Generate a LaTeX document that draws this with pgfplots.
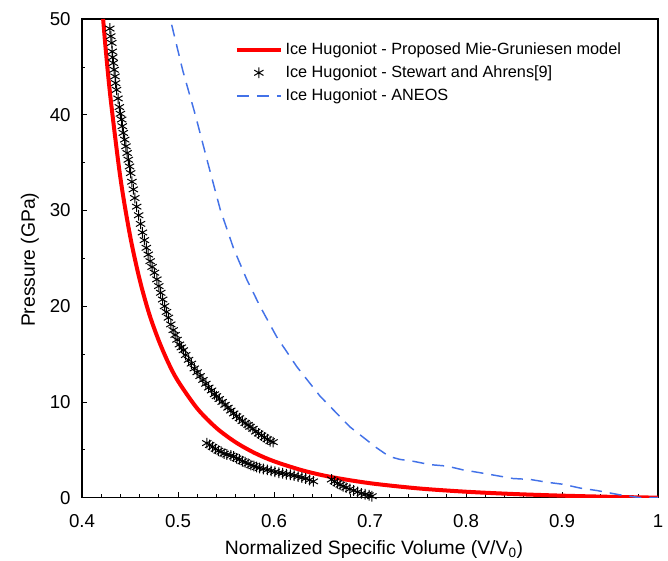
\documentclass[border=0pt]{standalone}
\usepackage{pgfplots}
\pgfplotsset{compat=1.18}
\usepackage{fontspec}
\setmainfont{Liberation Sans}
\definecolor{mgred}{HTML}{FF0000}
\definecolor{aneos}{HTML}{4372E8}
\pgfplotsset{
  linelegend/.style={legend image code/.code={\draw[##1] (0pt,0pt) -- (33pt,0pt);}},
  marklegend/.style={legend image code/.code={\draw[##1] plot coordinates {(16.5pt,0pt)};}},
}

\begin{document}
\begin{tikzpicture}
\begin{axis}[
  scale only axis, width=432pt, height=359pt,
  xmin=0.4, xmax=1, ymin=0, ymax=50,
  xtick={0.4,0.5,...,1.0}, ytick={0,10,...,50},
  minor x tick num=4, minor y tick num=1,
  tick align=inside, xtick pos=bottom, ytick pos=left,
  major tick length=4pt, minor tick length=2.5pt,
  tick style={black, line width=0.5pt},
  axis line style={black, line width=1pt},
  ticklabel style={font=\fontsize{14}{16}\selectfont},
  /pgf/number format/assume math mode=true,
  xticklabel style={yshift=-9pt},
  yticklabel style={xshift=-5pt},
  label style={font=\fontsize{14.5}{17}\selectfont},
  xlabel={Normalized Specific Volume (V/V\textsubscript{0})},
  xlabel style={at={(axis description cs:0.507,-0.118)}, anchor=base},
  ylabel={Pressure (GPa)},
  ylabel style={at={(axis description cs:-0.0903,0.497)}, anchor=center},
  legend style={draw=none, fill=none, at={(0.258,0.962)}, anchor=north west,
    font=\fontsize{12.2}{14}\selectfont, row sep=3pt, cells={anchor=west}},
]
\addplot[mgred, line width=3pt, smooth, linelegend] coordinates {
(0.422,50.0) (0.425,46.5) (0.43,41.5) (0.44,33.4) (0.45,27.4) (0.46,22.8)
(0.47,19.2) (0.48,16.4) (0.49,14.07) (0.50,12.18) (0.52,9.32) (0.54,7.28)
(0.56,5.79) (0.58,4.66) (0.60,3.80) (0.63,2.84) (0.66,2.15) (0.70,1.51)
(0.75,0.97) (0.80,0.62) (0.85,0.379) (0.90,0.21) (0.95,0.089) (1.0,0.0)
};
\addlegendentry{Ice Hugoniot - Proposed Mie-Gruniesen model}
\addplot[only marks, mark=asterisk, mark size=4pt, black,
  mark options={line width=0.75pt}, marklegend] coordinates {
(0.429,49.0) (0.430,48.2) (0.431,47.5) (0.4315,46.6) (0.432,46.0) (0.4326,45.4)
(0.4335,44.7) (0.4344,44.0) (0.435,43.3) (0.436,42.6) (0.4375,41.7) (0.4389,40.8)
(0.440,40.1) (0.4413,39.5) (0.442,38.8) (0.443,38.1) (0.4445,37.4) (0.4458,36.7)
(0.447,36.0) (0.4482,35.3) (0.4495,34.6) (0.4507,33.9) (0.452,33.0) (0.4535,32.2)
(0.455,31.3) (0.457,30.4) (0.459,29.5) (0.461,28.6) (0.463,27.7) (0.465,26.9)
(0.467,26.1) (0.469,25.4) (0.471,24.7) (0.473,24.1) (0.4755,23.5) (0.478,22.8)
(0.480,22.1) (0.482,21.4) (0.484,20.7) (0.486,20.0) (0.488,19.4) (0.490,18.8)
(0.4925,18.1) (0.495,17.5) (0.497,17.0) (0.499,16.5) (0.5015,16.0) (0.5035,15.7)
(0.5056,15.4) (0.508,14.9) (0.511,14.4) (0.514,14.0) (0.517,13.5) (0.520,13.1)
(0.523,12.7) (0.526,12.3) (0.529,11.9) (0.532,11.5) (0.535,11.2) (0.538,10.8)
(0.540,10.6) (0.543,10.3) (0.546,10.0) (0.549,9.7) (0.552,9.4) (0.555,9.1)
(0.558,8.8) (0.561,8.5) (0.564,8.3) (0.567,8.0) (0.570,7.8) (0.573,7.6)
(0.575,7.4) (0.578,7.2) (0.581,6.9) (0.584,6.7) (0.587,6.5) (0.590,6.3)
(0.593,6.1) (0.596,5.9) (0.599,5.8)
(0.530,5.7) (0.533,5.5) (0.536,5.3) (0.539,5.1) (0.542,4.9) (0.545,4.8)
(0.548,4.6) (0.551,4.5) (0.555,4.4) (0.558,4.3) (0.561,4.1) (0.564,4.0)
(0.567,3.8) (0.570,3.7) (0.573,3.55) (0.576,3.4) (0.579,3.3) (0.582,3.2)
(0.585,3.1) (0.589,3.0) (0.593,2.9) (0.597,2.8) (0.601,2.7) (0.605,2.6)
(0.609,2.55) (0.613,2.45) (0.617,2.4) (0.621,2.3) (0.625,2.2) (0.629,2.1)
(0.633,2.0) (0.637,1.85) (0.641,1.7)
(0.660,1.9) (0.663,1.7) (0.666,1.5) (0.669,1.35) (0.672,1.2) (0.675,1.05)
(0.679,0.9) (0.683,0.75) (0.687,0.6) (0.691,0.45) (0.695,0.35) (0.699,0.25)
(0.702,0.15)
};
\addlegendentry{Ice Hugoniot - Stewart and Ahrens[9]}
\addplot[aneos, line width=1.1pt, dash pattern=on 9pt off 6pt, linelegend] coordinates {
(0.4934,49.4) (0.505,44.6) (0.518,40.0) (0.531,35.0) (0.544,30.1) (0.558,26.0)
(0.5716,22.8) (0.5854,20.0) (0.6028,16.8) (0.6236,13.7) (0.648,10.6) (0.679,7.4)
(0.707,5.2) (0.72,4.3) (0.731,4.0) (0.745,3.8) (0.7625,3.45) (0.78,3.3)
(0.797,2.9) (0.815,2.6) (0.832,2.3) (0.849,2.0) (0.867,1.9) (0.885,1.6)
(0.901,1.4) (0.919,1.0) (0.936,0.75) (0.96,0.3) (0.981,0.0) (1.0,0.0)
};
\addlegendentry{Ice Hugoniot - ANEOS}
\end{axis}
\pgfresetboundingbox
\path[use as bounding box] ([shift={(-61.5pt,-47.25pt)}]current axis.south west)
  rectangle ([shift={(7.5pt,14.25pt)}]current axis.north east);
\end{tikzpicture}
\end{document}
